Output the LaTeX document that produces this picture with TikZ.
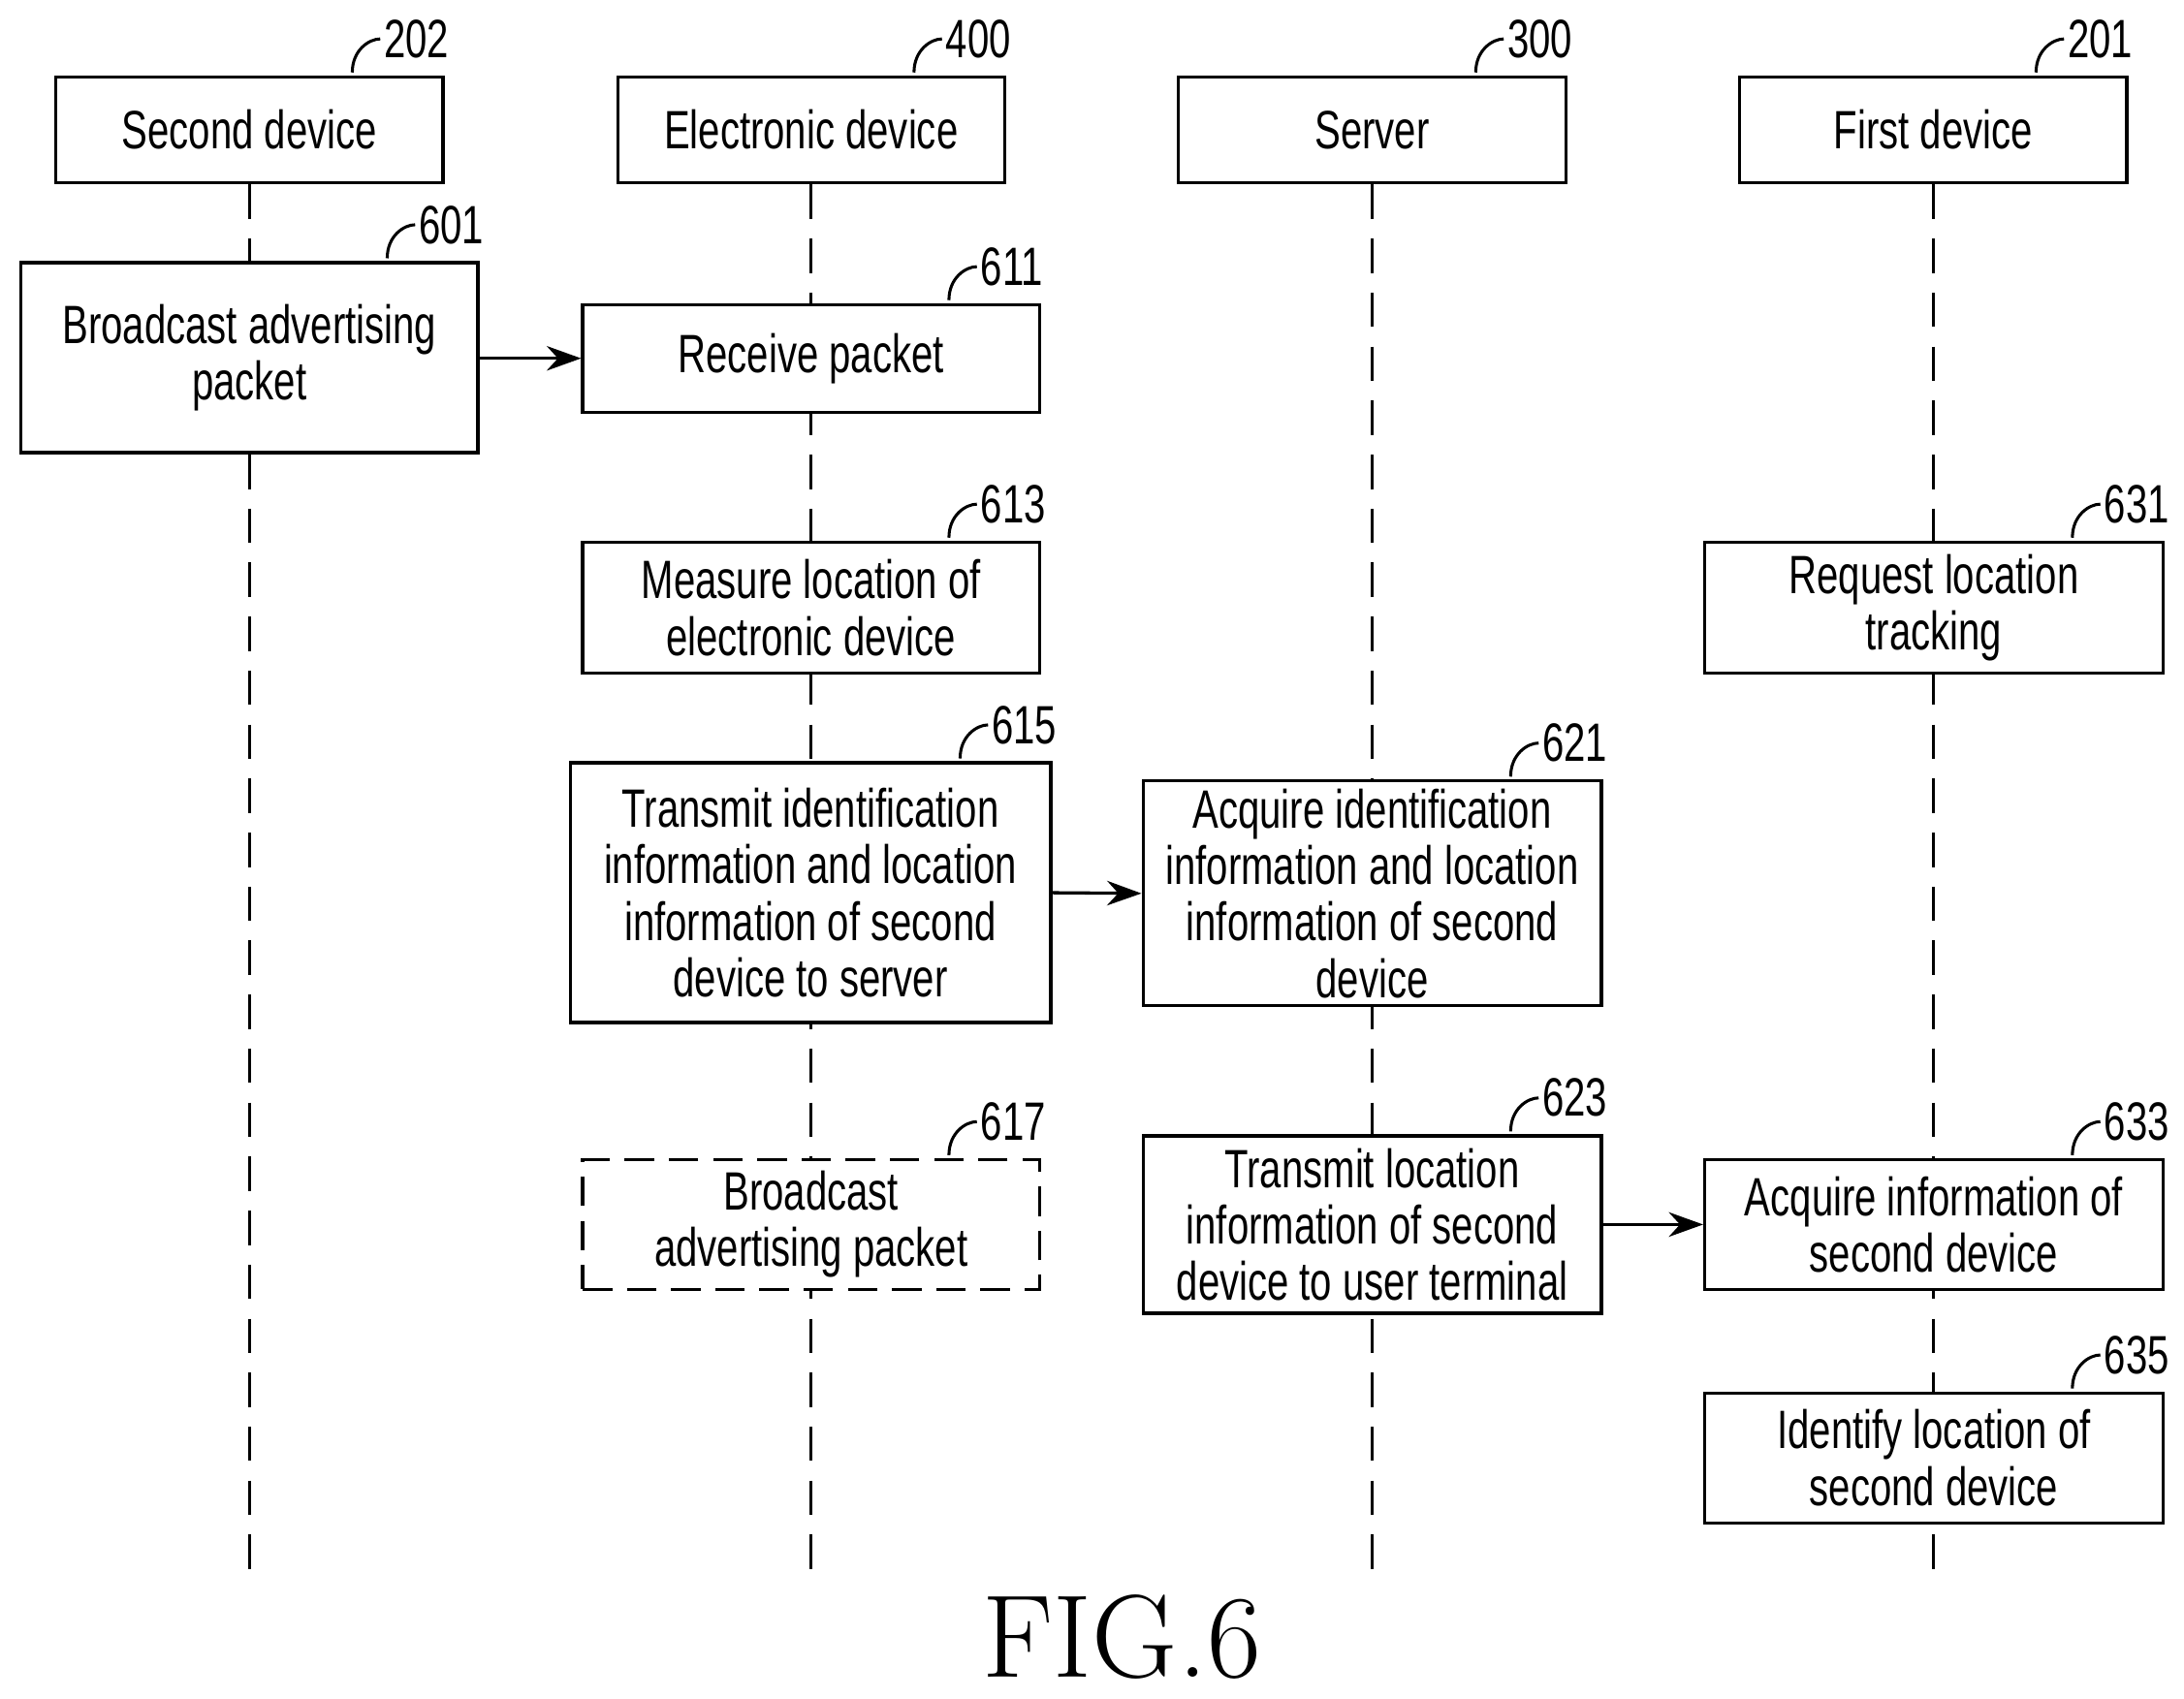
\documentclass[tikz,border=0pt]{standalone}
\usepackage{fontspec}
\setmainfont{Liberation Sans}[FakeStretch=0.72]
\usetikzlibrary{calc,backgrounds,arrows.meta}
\begin{document}
\begin{tikzpicture}[x=0.02cm,y=-0.02cm,
  box/.style={draw,line width=1.3pt,fill=white,align=center,inner sep=0pt,font=\fontsize{22}{23}\selectfont},
  life/.style={dashed,line width=1.1pt,dash pattern=on 14pt off 8pt},
  arr/.style={-{Stealth[length=14pt,width=10pt]},line width=1.3pt},
  lbl/.style={font=\fontsize{22}{23}\selectfont,anchor=west,inner sep=1pt}]
\useasboundingbox (0,0) rectangle (1563,1216);
% headers
\node[box,minimum width=5.54cm,minimum height=1.52cm] (h2) at (178.5,93) {Second device};
\node[box,minimum width=5.54cm,minimum height=1.52cm] (h4) at (580.5,93) {Electronic device};
\node[box,minimum width=5.56cm,minimum height=1.52cm] (h3) at (982,93) {Server};
\node[box,minimum width=5.54cm,minimum height=1.52cm] (h1) at (1383.5,93) {First device};
% boxes
\node[box,minimum width=6.54cm,minimum height=2.72cm] (b601) at (178.5,256) {Broadcast advertising\\packet};
\node[box,minimum width=6.54cm,minimum height=1.54cm] (b611) at (580.5,256.5) {Receive packet};
\node[box,minimum width=6.54cm,minimum height=1.88cm] (b613) at (580.5,435) {Measure location of\\electronic device};
\node[box,minimum width=6.88cm,minimum height=3.72cm] (b615) at (580,639) {Transmit identification\\information and location\\information of second\\device to server};
\node[box,minimum width=6.56cm,minimum height=3.22cm] (b621) at (982,639.5) {Acquire identification\\information and location\\information of second\\device};
\node[box,dashed,dash pattern=on 12pt off 6pt,minimum width=6.54cm,minimum height=1.86cm] (b617) at (580.5,876.5) {Broadcast\\advertising packet};
\node[box,minimum width=6.56cm,minimum height=2.54cm] (b623) at (982,876.5) {Transmit location\\information of second\\device to user terminal};
\node[box,minimum width=6.56cm,minimum height=1.88cm] (b631) at (1384,435) {Request location\\tracking};
\node[box,minimum width=6.56cm,minimum height=1.86cm] (b633) at (1384,876.5) {Acquire information of\\second device};
\node[box,minimum width=6.56cm,minimum height=1.86cm] (b635) at (1384,1043.5) {Identify location of\\second device};
% lifelines
\coordinate (e2) at (179,1132); \coordinate (e4) at (580,1132);
\coordinate (e3) at (982,1132); \coordinate (e1) at (1383,1132);
\begin{scope}[on background layer]
\draw[life] (h2.south) -- (h2.south |- e2);
\draw[life] (h4.south) -- (h4.south |- e4);
\draw[life] (h3.south) -- (h3.south |- e3);
\draw[life] (h1.south) -- (h1.south |- e1);
\end{scope}
% arrows
\draw[arr] (b601.east |- b611) -- (b611.west);
\draw[arr] (b615.east) -- (b621.west);
\draw[arr] (b623.east |- b633) -- (b633.west);
% labels
\newcommand\tg[2]{\coordinate (t) at ($(#1.north east)+(-66,-2)$);
 \draw[line width=1.2pt] (t) .. controls +(0,-16) and +(-8,0) .. ($(t)+(20,-24)$) node[lbl]{#2};}
\tg{h2}{202}\tg{h4}{400}\tg{h3}{300}\tg{h1}{201}
\tg{b601}{601}\tg{b611}{611}\tg{b613}{613}\tg{b615}{615}\tg{b621}{621}
\tg{b617}{617}\tg{b623}{623}\tg{b631}{631}\tg{b633}{633}\tg{b635}{635}
\node[font=\fontfamily{lmr}\fontsize{48}{48}\selectfont] (fig) at (803,1172) {FIG.6};
\end{tikzpicture}
\end{document}
